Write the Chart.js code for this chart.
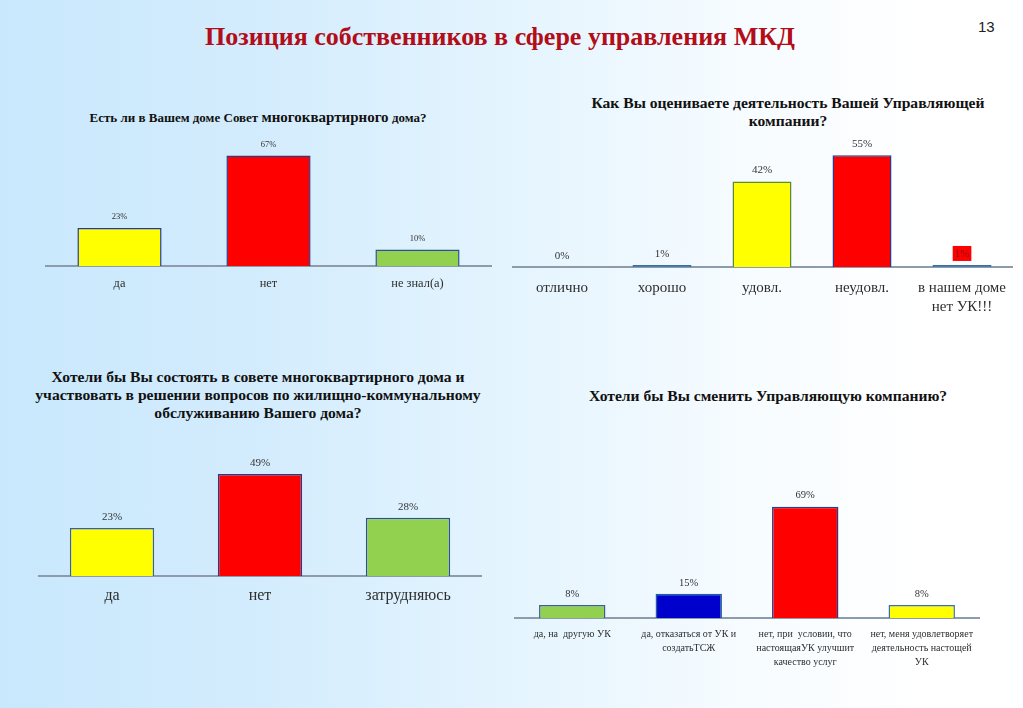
<!DOCTYPE html>
<html>
<head>
<meta charset="utf-8">
<script src="https://cdn.jsdelivr.net/npm/chart.js@4.4.0/dist/chart.umd.min.js"></script>
<style>
  body { margin: 0; }
  .slide {
    position: relative; width: 1023px; height: 708px; overflow: hidden;
    background: linear-gradient(to right, #c9e8fd 0%, #d3ecfd 25%, #e4f4fe 50%, #f5fbff 71%, #ffffff 90%);
    font-family: "Liberation Serif", serif;
  }
  .head {
    position: absolute; left: 0; width: 1000px; top: 22px; text-align: center;
    font-size: 26px; font-weight: bold; color: #b20d18;
  }
  .num { position: absolute; left: 978px; top: 18px; font: 15px "Liberation Sans", sans-serif; color: #222; }
  .t { position: absolute; text-align: center; font-weight: bold; color: #111; font-size: 15.6px; line-height: 18px; }
  canvas { position: absolute; }
</style>
</head>
<body>
<div class="slide">
  <div class="head">Позиция собственников в сфере управления МКД</div>
  <div class="num">13</div>

  <div class="t" style="left:30px; width:456px; top:108px; font-size:13px;">Есть ли в Вашем доме Совет <span style="font-size:15px">многоквартирного</span> дома?</div>
  <div class="t" style="left:556px; width:464px; top:94px;">Как Вы оцениваете деятельность Вашей Управляющей<br>компании?</div>
  <div class="t" style="left:10px; width:496px; top:368px;">Хотели бы Вы состоять в совете многоквартирного дома и<br>участвовать в решении вопросов по жилищно-коммунальному<br>обслуживанию Вашего дома?</div>
  <div class="t" style="left:536px; width:464px; top:387px;">Хотели бы Вы сменить Управляющую компанию?</div>

  <canvas id="c1" width="447" height="166" style="left:45px; top:134px;"></canvas>
  <canvas id="c2" width="506" height="187" style="left:512px; top:130px;"></canvas>
  <canvas id="c3" width="444" height="171" style="left:38px; top:441px;"></canvas>
  <canvas id="c4" width="468" height="195" style="left:514px; top:479px;"></canvas>
</div>

<script>
// данные
const q1Labels = ['да', 'нет', 'не знал(а)'];
const q1Values = [23, 67, 10];

const q2Labels = ['отлично', 'хорошо', 'удовл.', 'неудовл.', ['в нашем доме', 'нет УК!!!']];
const q2Values = [0, 1, 42, 55, 1];

const q3Labels = ['да', 'нет', 'затрудняюсь'];
const q3Values = [23, 49, 28];

const q4Labels = [
  ['да, на  другую УК'],
  ['да, отказаться от УК и', 'создатьТСЖ'],
  ['нет, при  условии, что', 'настоящаяУК улучшит', 'качество услуг'],
  ['нет, меня удовлетворяет', 'деятельность настощей', 'УК']
];
const q4Values = [8, 15, 69, 8];

// подписи значений над столбиками
const valueLabels = {
  id: 'valueLabels',
  afterDatasetsDraw(chart, args, opts) {
    const ctx = chart.ctx;
    const meta = chart.getDatasetMeta(0);
    ctx.save();
    ctx.font = opts.font;
    ctx.textAlign = 'center';
    ctx.textBaseline = 'middle';
    meta.data.forEach((bar, i) => {
      const txt = chart.data.datasets[0].data[i] + '%';
      const y = bar.y - opts.offset;
      let color = opts.color;
      if (opts.boxes && opts.boxes[i]) {
        const w = ctx.measureText(txt).width + 4;
        ctx.fillStyle = opts.boxes[i];
        ctx.fillRect(bar.x - w / 2, y - 8, w, 15);
        color = '#8a1010';
      }
      ctx.fillStyle = color;
      ctx.fillText(txt, bar.x, y);
    });
    ctx.restore();
  }
};

function makeChart(id, labels, values, s) {
  return new Chart(document.getElementById(id), {
    type: 'bar',
    data: {
      labels: labels,
      datasets: [{
        data: values,
        backgroundColor: s.colors,
        borderColor: s.borders,
        borderWidth: 1.5,
        barPercentage: s.barPct,
        categoryPercentage: 1
      }]
    },
    options: {
      responsive: false,
      animation: false,
      layout: { padding: { top: s.padTop, left: 0, right: 0, bottom: 0 } },
      plugins: {
        legend: { display: false },
        tooltip: { enabled: false },
        valueLabels: { font: s.valueFont, offset: 11, color: '#333', boxes: s.boxes }
      },
      scales: {
        y: { display: false, min: 0, max: s.yMax },
        x: {
          grid: { display: false, drawTicks: false },
          border: { display: true, color: '#8e9bab', width: 2 },
          ticks: {
            color: '#2e2e2e',
            font: { family: 'Liberation Serif', size: s.tickSize, lineHeight: s.lineH },
            padding: s.tickPad,
            maxRotation: 0,
            autoSkip: false
          },
          afterFit(scale) { scale.height = s.axisH; }
        }
      }
    },
    plugins: [valueLabels]
  });
}

const navy = '#283a8c';

makeChart('c1', q1Labels, q1Values, {
  colors: ['#ffff00', '#ff0000', '#92d050'],
  borders: [navy, navy, '#2c4f9a'],
  barPct: 0.565, padTop: 0, yMax: 80, axisH: 34,
  tickSize: 12.4, lineH: 1.2, tickPad: 10,
  valueFont: '8.5px "Liberation Serif"'
});

makeChart('c2', q2Labels, q2Values, {
  colors: ['#4a7fb0', '#4a7fb0', '#ffff00', '#ff0000', '#4a7fb0'],
  borders: ['#3d6f9e', '#3d6f9e', '#5d8a3a', navy, '#3d6f9e'],
  barPct: 0.59, padTop: 15, yMax: 60, axisH: 50,
  tickSize: 15, lineH: 1.25, tickPad: 12,
  valueFont: '11px "Liberation Serif"',
  boxes: [null, null, null, null, '#ff0000']
});

makeChart('c3', q3Labels, q3Values, {
  colors: ['#ffff00', '#ff0000', '#92d050'],
  borders: ['#3b5f9a', navy, '#2c4f9a'],
  barPct: 0.57, padTop: 10, yMax: 60, axisH: 36,
  tickSize: 16, lineH: 1.2, tickPad: 10,
  valueFont: '11px "Liberation Serif"'
});

makeChart('c4', q4Labels, q4Values, {
  colors: ['#92d050', '#0000cc', '#ff0000', '#ffff00'],
  borders: ['#3b5f8f', '#1f5fa0', navy, '#3b6fb0'],
  barPct: 0.57, padTop: 10, yMax: 80, axisH: 56,
  tickSize: 10, lineH: 1.42, tickPad: 9,
  valueFont: '10.5px "Liberation Serif"'
});
</script>
</body>
</html>
